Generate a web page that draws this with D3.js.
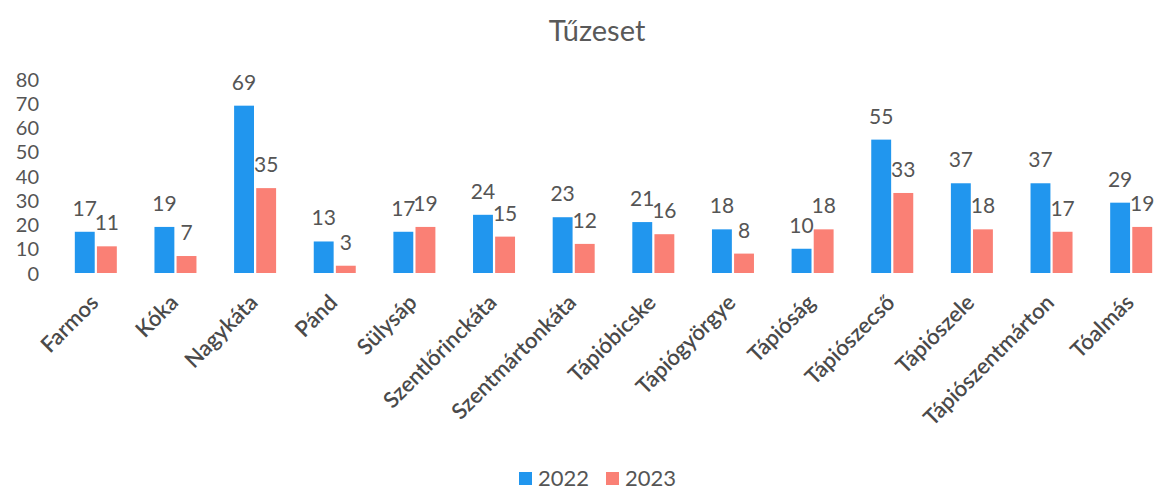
<!DOCTYPE html>
<html>
<head>
<meta charset="utf-8">
<script src="https://cdn.jsdelivr.net/npm/d3@7"></script>
<style>
  html, body { margin: 0; padding: 0; background: #fff; }
  svg { display: block; font-family: Lato, "Noto Sans", sans-serif; }
</style>
</head>
<body>
<svg id="chart" width="1159" height="490"></svg>
<script>
const categories = ["Farmos", "Kóka", "Nagykáta", "Pánd", "Sülysáp", "Szentlőrinckáta", "Szentmártonkáta", "Tápióbicske", "Tápiógyörgye", "Tápióság", "Tápiószecső", "Tápiószele", "Tápiószentmárton", "Tóalmás"];
const values2022 = [17, 19, 69, 13, 17, 24, 23, 21, 18, 10, 55, 37, 37, 29];
const values2023 = [11, 7, 35, 3, 19, 15, 12, 16, 8, 18, 33, 18, 17, 19];
const seriesNames = ["2022", "2023"];
const yTicks = [0, 10, 20, 30, 40, 50, 60, 70, 80];
const title = "Tűzeset";

const colors = {"2022": "#2196ee", "2023": "#fa8075"};
const textColor = "#555555";

const svg = d3.select("#chart");
const seriesValues = {"2022": values2022, "2023": values2023};

const x0 = d3.scaleBand().domain(categories).range([56, 1171]).padding(0);
const bw = x0.bandwidth();
const x1 = d3.scaleBand().domain(seriesNames).range([bw / 2 - 21, bw / 2 + 21]).paddingInner(0.1);
const y = d3.scaleLinear().domain([0, 80]).range([273, 79]);

// Title
svg.append("text")
  .attr("x", 597).attr("y", 41)
  .attr("text-anchor", "middle")
  .attr("font-size", 29)
  .attr("fill", "#595959")
  .text(title);

// Y axis
const yAxis = d3.axisLeft(y).tickValues(yTicks).tickSize(0).tickPadding(0);
const gy = svg.append("g").attr("transform", "translate(39,0)").call(yAxis);
gy.select(".domain").remove();
gy.selectAll("text")
  .attr("font-size", 20)
  .attr("font-family", "Lato, 'Noto Sans', sans-serif")
  .attr("fill", textColor)
  .attr("dy", "0.35em");

// Bars
const groups = svg.append("g").selectAll("g")
  .data(categories)
  .join("g")
  .attr("transform", d => `translate(${x0(d)},0)`);

groups.selectAll("rect")
  .data((d, i) => seriesNames.map(s => ({s, v: seriesValues[s][i]})))
  .join("rect")
  .attr("x", d => x1(d.s))
  .attr("width", x1.bandwidth())
  .attr("y", d => y(d.v))
  .attr("height", d => y(0) - y(d.v))
  .attr("fill", d => colors[d.s]);

groups.selectAll("text.val")
  .data((d, i) => seriesNames.map(s => ({s, v: seriesValues[s][i]})))
  .join("text")
  .attr("class", "val")
  .attr("x", d => x1(d.s) + x1.bandwidth() / 2)
  .attr("y", d => y(d.v) - 16)
  .attr("text-anchor", "middle")
  .attr("font-size", 21)
  .attr("fill", textColor)
  .text(d => d.v);

// X axis labels
const xAxis = d3.axisBottom(x0).tickSize(0).tickPadding(0);
const gx = svg.append("g").attr("transform", "translate(0,304)").call(xAxis);
gx.select(".domain").remove();
gx.selectAll("text")
  .attr("font-size", 22)
  .attr("font-family", "Lato, 'Noto Sans', sans-serif")
  .attr("font-weight", 600)
  .attr("fill", "#4a4a4a")
  .attr("text-anchor", "end")
  .attr("dy", "0")
  .attr("transform", "translate(4,0) rotate(-45)");

// Legend
const legend = svg.append("g");
const legendItems = [
  {s: "2022", x: 519},
  {s: "2023", x: 606}
];
legendItems.forEach(it => {
  legend.append("rect")
    .attr("x", it.x).attr("y", 472)
    .attr("width", 13).attr("height", 13)
    .attr("fill", colors[it.s]);
  legend.append("text")
    .attr("x", it.x + 19).attr("y", 486)
    .attr("font-size", 22)
    .attr("fill", textColor)
    .text(it.s);
});
</script>
</body>
</html>
